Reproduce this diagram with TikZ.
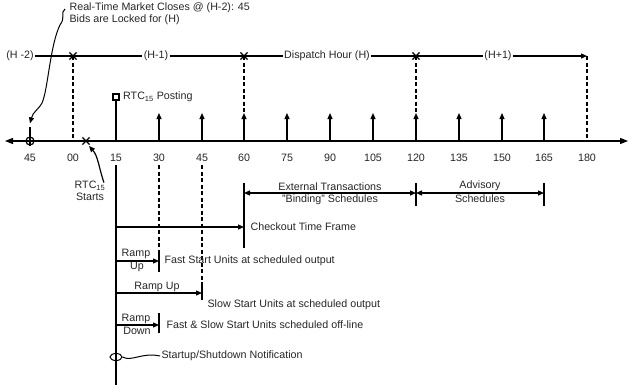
\documentclass[tikz,border=0pt]{standalone}
\usepackage{fontspec}
\setmainfont{Liberation Sans}
\usetikzlibrary{arrows.meta,shapes.misc,shapes.geometric}

\tikzset{
  lbl/.style={font=\fontsize{10.7}{12}\selectfont, text=black!85, inner sep=1pt},
  dashline/.style={dash pattern=on 4pt off 2.5pt},
  xmark/.style={cross out, draw, minimum size=6pt, inner sep=0pt},
}

\begin{document}
\begin{tikzpicture}[x=1pt, y=-1pt, line width=1.2pt, >={Triangle[length=6pt,width=5pt]}]
\useasboundingbox (0,0) rectangle (629,389);

% Time axis
\coordinate (axl) at (5,141);
\coordinate (axr) at (628,141);
\draw[<->, >={Triangle[length=8pt,width=6pt]}] (axl) -- (axr);
\foreach \n/\x in {m15/30, 0/73, 15/116, 30/159, 45/202, 60/244, 75/287, 90/330,
                   105/373, 120/416, 135/459, 150/502, 165/544, 180/587}
  \coordinate (a\n) at (\x,141);
\foreach \n/\t in {m15/45, 0/00, 15/15, 30/30, 45/45, 60/60, 75/75, 90/90,
                   105/105, 120/120, 135/135, 150/150, 165/165, 180/180}
  \node[lbl] (l\n) at ([yshift=-17pt]a\n) {\t};
\foreach \n in {30,45,60,75,90,105,120,135,150,165}
  \draw[->] (a\n) -- ++(0,-28);

% Market close marker
\node[circle, draw, minimum size=8pt, inner sep=0pt] (c45) at (am15) {};
\draw ([yshift=9pt]c45.north) -- (c45.south);
\node[lbl, align=left, anchor=west] (mktnote) at (68,14)
  {Real-Time Market Closes @ (H-2): 45\\Bids are Locked for (H)};
\draw[line width=1pt, ->] ([xshift=-3pt,yshift=5pt]mktnote.west) .. controls (60,13) and (66,17) .. (60,25)
  .. controls (50,45) and (48,90) .. (42,103)
  .. controls (38,110) and (33,112) .. ([yshift=13pt]c45.north);

% RTC15 start
\node[xmark] (xrtc) at (86,141) {};
\node[lbl, align=center] (rtcst) at (90,191) {RTC\textsubscript{15}\\Starts};
\draw[->] ([xshift=-3pt,yshift=-3pt]rtcst.north east) .. controls (99,168) and (98,156)
  .. ([xshift=3pt,yshift=-5pt]xrtc.center);

% RTC15 posting
\node[draw, minimum size=6pt, inner sep=0pt] (sq) at (116,97) {};
\draw (a15) -- (sq.south);
\node[lbl, anchor=west] (post) at ([xshift=2pt]sq.east) {RTC\textsubscript{15} Posting};

% Hour timeline
\node[lbl] (hm2) at (20,56) {(H -2)};
\node[lbl] (hm1) at (156,56) {(H-1)};
\node[lbl] (hdisp) at (327,56) {Dispatch Hour (H)};
\node[lbl] (hp1) at (498,56) {(H+1)};
\node[xmark] (x00) at (73,56) {};
\node[xmark] (x60) at (244,56) {};
\node[xmark] (x120) at (416,56) {};
\coordinate (e180) at (587,56);
\draw (hm2) -- (hm1);
\draw (hm1) -- (hdisp);
\draw (hdisp) -- (hp1);
\draw[->] (hp1) -- (e180);
\draw[dashline] (x00.center) -- (a0);
\draw[dashline] (x60.center) -- (a60);
\draw[dashline] (x120.center) -- (a120);
\draw[dashline] (e180) -- (a180);

% Lower guide lines
\coordinate (g15t) at (116,165);
\coordinate (g15b) at (116,385);
\draw (g15t) -- (g15b);
\coordinate (g30t) at (159,165);
\coordinate (g30b) at (159,250);
\draw[dashline] (g30t) -- (g30b);
\coordinate (g45t) at (202,165);
\coordinate (g45b) at (202,283);
\draw[dashline] (g45t) -- (g45b);

% Schedules
\coordinate (s60t) at (244,183);
\coordinate (s60b) at (244,248);
\draw (s60t) -- (s60b);
\coordinate (s120t) at (416,183);
\coordinate (s120b) at (416,206);
\draw (s120t) -- (s120b);
\coordinate (s165t) at (544,183);
\coordinate (s165b) at (544,206);
\draw (s165t) -- (s165b);
\coordinate (ext60) at (244,193);
\coordinate (ext120) at (416,193);
\coordinate (ext165) at (544,193);
\draw[<->] (ext60) -- (ext120);
\draw[<->] (ext120) -- (ext165);
\node[lbl] (extA) at (330,187) {External Transactions};
\node[lbl] (extB) at (330,200) {"Binding" Schedules};
\node[lbl] (advA) at (480,186) {Advisory};
\node[lbl] (advB) at (480,199) {Schedules};

% Checkout
\coordinate (ck15) at (116,227);
\coordinate (ck60) at (244,227);
\draw[->] (ck15) -- (ck60);
\node[lbl, anchor=west] (ckt) at (249,227) {Checkout Time Frame};

% Ramp up, fast start
\coordinate (r1s) at (116,261);
\coordinate (r1e) at (159,261);
\draw[->] (r1s) -- (r1e);
\draw (g30b) -- (159,272);
\node[lbl] (r1a) at (136,254) {Ramp};
\node[lbl] (r1b) at (137,267) {Up};
\node[lbl, anchor=west] (r1t) at (163,261) {Fast Start Units at scheduled output};

% Ramp up, slow start
\coordinate (r2s) at (116,293);
\coordinate (r2e) at (202,293);
\draw[->] (r2s) -- (r2e);
\draw (g45b) -- (202,300);
\node[lbl] (r2a) at (157,287) {Ramp Up};
\node[lbl, anchor=west] (r2t) at (206,305) {Slow Start Units at scheduled output};

% Ramp down
\coordinate (r3s) at (116,325);
\coordinate (r3e) at (159,325);
\draw[->] (r3s) -- (r3e);
\draw (159,313) -- (159,333);
\node[lbl] (r3a) at (136,319) {Ramp};
\node[lbl] (r3b) at (137,331) {Down};
\node[lbl, anchor=west] (r3t) at (165,325) {Fast \& Slow Start Units scheduled off-line};

% Notification
\node[ellipse, draw, minimum width=12pt, minimum height=7pt, inner sep=0pt, line width=1pt] (loop) at (116,357) {};
\node[lbl, anchor=west] (note) at (160,356) {Startup/Shutdown Notification};
\draw[line width=1pt] (loop.east) .. controls (132,362) and (142,352) .. (note.west);

\end{tikzpicture}
\end{document}
